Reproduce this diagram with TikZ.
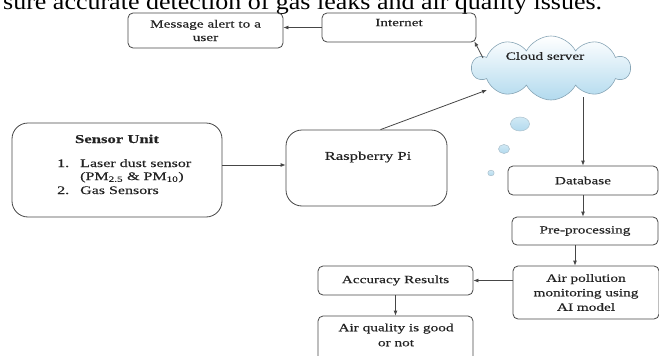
\documentclass[tikz,border=0pt]{standalone}
\usepackage{fontspec}
\setmainfont[FakeStretch=1.39,FakeBold=0.35]{Liberation Serif}
\newfontfamily\pagefont[FakeStretch=1.13]{Liberation Serif}
\usetikzlibrary{shapes.symbols,arrows.meta}
\definecolor{linec}{RGB}{70,70,70}
\definecolor{txtc}{RGB}{35,35,35}
\definecolor{cloudb}{RGB}{178,218,238}
\definecolor{cloudline}{RGB}{135,165,182}
\begin{document}
\begin{tikzpicture}[x=1pt,y=-1pt,
  box/.style={draw=linec, line width=0.8pt, rounded corners=5pt, text=txtc,
    font=\fontsize{11}{13.5}\selectfont, align=center, inner sep=0pt},
  bigbox/.style={box, rounded corners=16pt},
  arr/.style={draw=linec, line width=0.8pt, -{Latex[length=5pt,width=4pt]}},
  txt/.style={text=txtc, font=\fontsize{11}{13.5}\selectfont, inner sep=0pt},
  bubble/.style={draw=cloudline!70, line width=0.5pt, top color=white!40!cloudb, bottom color=cloudb}]
\useasboundingbox (0,0) rectangle (659,356);
\begin{scope}
\clip (0,0) rectangle (659,356);
% cut-off page text at the top
\node[anchor=base west, inner sep=0pt, text=black, font=\pagefont\fontsize{23}{26}\selectfont] (toptext) at (3,9.5)
  {sure accurate detection of gas leaks and air quality issues.};

% top row
\node[box, minimum width=155pt, minimum height=35pt] (msg) at (205.5,30.5) {Message alert to a\\user};
\node[box, minimum width=154pt, minimum height=29pt, text depth=10pt] (internet) at (399,27.5) {Internet};

% cloud
\node[cloud, cloud puffs=10, cloud puff arc=125, aspect=2.4, draw=cloudline, line width=0.6pt,
  top color=white, bottom color=cloudb, minimum width=158pt, minimum height=64pt, inner sep=0pt]
  (cloud) at (551,68) {};
\node[txt] (cloudtxt) at (545,56) {Cloud server};
\shade[bubble] (520,124) ellipse [x radius=9.5, y radius=7];
\shade[bubble] (504,149) ellipse [x radius=5.5, y radius=4.5];
\shade[bubble] (491,173) ellipse [x radius=3.2, y radius=2.8];

% sensor unit
\node[bigbox, minimum width=210pt, minimum height=94pt] (sensor) at (117,170) {};
\node[txt, anchor=base, font=\bfseries\fontsize{12}{14}\selectfont] (sensorhd) at (117,143) {Sensor Unit};
\node[txt, anchor=base west, font=\fontsize{11.5}{14}\selectfont] (num1) at (57,167) {1.};
\node[txt, anchor=base west, font=\fontsize{11.5}{14}\selectfont] (item1) at (80,167) {Laser dust sensor};
\node[txt, anchor=base west, font=\fontsize{11.5}{14}\selectfont] (item1b) at (80,180) {(PM\textsubscript{2.5} \& PM\textsubscript{10})};
\node[txt, anchor=base west, font=\fontsize{11.5}{14}\selectfont] (num2) at (57,194) {2.};
\node[txt, anchor=base west, font=\fontsize{11.5}{14}\selectfont] (item2) at (80,194) {Gas Sensors};

% raspberry pi
\node[bigbox, minimum width=161pt, minimum height=76pt] (rasp) at (366.5,168) {};
\node[txt, font=\fontsize{12}{14}\selectfont] (rasptxt) at (368,157) {Raspberry Pi};

% right column
\node[box, minimum width=150pt, minimum height=29pt] (database) at (583,180.5) {Database};
\node[box, minimum width=146pt, minimum height=28pt] (preproc) at (585,231) {Pre-processing};
\node[box, minimum width=146pt, minimum height=53pt, font=\fontsize{11}{14.5}\selectfont] (airpoll) at (586,292.5)
  {Air pollution\\monitoring using\\AI model};
\node[box, minimum width=155pt, minimum height=29pt] (accuracy) at (395.5,280.5) {Accuracy Results};
\node[box, minimum width=155pt, minimum height=54pt] (airq) at (395.5,343) {};
\node[txt, align=center, font=\fontsize{11}{15}\selectfont] (airqtxt) at (396,335) {Air quality is good\\or not};

% connectors
\coordinate (cA) at (483,58);
\coordinate (cB) at (487,90);
\coordinate (cC) at (583,97);
\draw[arr] (internet.west) -- (internet.west -| msg.east);
\draw[arr] (cA) -- ([xshift=-2pt,yshift=1pt]internet.south east);
\draw[arr] ([xshift=14pt]rasp.north) -- (cB);
\draw[arr] ([yshift=5pt]sensor.east) -- ([yshift=5pt]sensor.east -| rasp.west);
\draw[arr] (cC) -- (cC |- database.north);
\draw[arr] (database.south) -- (database.south |- preproc.north);
\draw[arr] ([xshift=-10pt]preproc.south) -- ([xshift=-10pt]preproc.south |- airpoll.north);
\draw[arr] (airpoll.west |- accuracy.east) -- (accuracy.east);
\draw[arr] (accuracy.south) -- (accuracy.south |- airq.north);
\end{scope}
\end{tikzpicture}
\end{document}
